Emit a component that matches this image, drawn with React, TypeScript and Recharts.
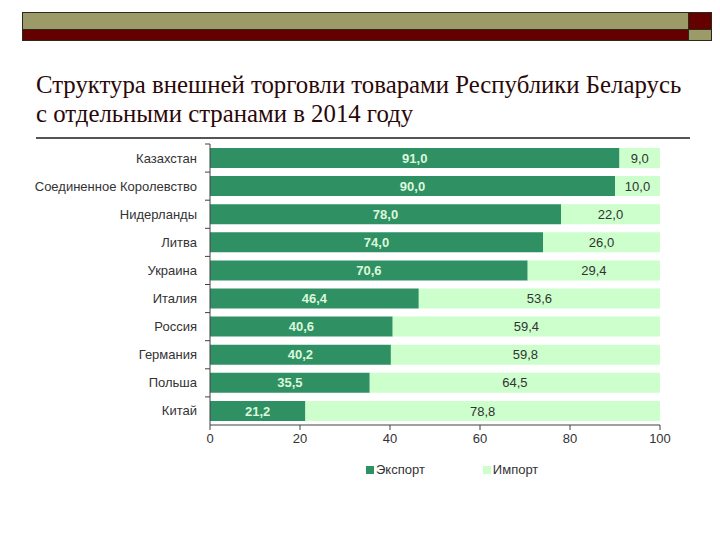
import { Bar, BarChart, LabelList, Legend, XAxis, YAxis } from 'recharts';

const countries = [
  'Казахстан',
  'Соединенное Королевство',
  'Нидерланды',
  'Литва',
  'Украина',
  'Италия',
  'Россия',
  'Германия',
  'Польша',
  'Китай',
];
const exportShare = [91.0, 90.0, 78.0, 74.0, 70.6, 46.4, 40.6, 40.2, 35.5, 21.2];
const importShare = [9.0, 10.0, 22.0, 26.0, 29.4, 53.6, 59.4, 59.8, 64.5, 78.8];
const xTicks = [0, 20, 40, 60, 80, 100];

const rows = countries.map((name, i) => ({
  name,
  exp: exportShare[i],
  imp: importShare[i],
}));

const EXPORT_COLOR = '#2f9063';
const IMPORT_COLOR = '#ccffcc';
const AXIS_COLOR = '#404040';
const chartFont = '"Liberation Sans", Arial, sans-serif';

const fmt = (v: any) => Number(v).toFixed(1).replace('.', ',');

function CountryTick(props: any) {
  const { x, y, payload } = props;
  const half = payload && payload.offset ? payload.offset : 14;
  return (
    <g>
      <line x1={x + 8} x2={x + 13} y1={y - half} y2={y - half} stroke={AXIS_COLOR} strokeWidth={1} />
      <text x={x} y={y} dy={4.5} textAnchor="end" fill="#333" fontSize={13} fontFamily={chartFont}>
        {payload.value}
      </text>
    </g>
  );
}

function LegendContent() {
  const items = [
    { label: 'Экспорт', color: EXPORT_COLOR },
    { label: 'Импорт', color: IMPORT_COLOR },
  ];
  return (
    <div style={{ display: 'flex', gap: 58, fontFamily: chartFont, fontSize: 13, color: '#333' }}>
      {items.map((it) => (
        <div key={it.label} style={{ display: 'flex', alignItems: 'center' }}>
          <span style={{ width: 8, height: 8, background: it.color, marginRight: 2, display: 'inline-block' }} />
          {it.label}
        </div>
      ))}
    </div>
  );
}

export default function App() {
  return (
    <div style={{ position: 'absolute', left: 0, top: 0, width: 720, height: 540, background: '#fff', overflow: 'hidden' }}>
      <div style={{ position: 'absolute', left: 22, top: 12, width: 665, height: 16, background: '#9c9a68', border: '1px solid #2a2a1a' }} />
      <div style={{ position: 'absolute', left: 22, top: 29, width: 665, height: 10, background: '#650000', border: '1px solid #2a2a1a' }} />
      <div style={{ position: 'absolute', left: 688, top: 12, width: 22, height: 16, background: '#650000', border: '1px solid #2a2a1a' }} />
      <div style={{ position: 'absolute', left: 688, top: 29, width: 22, height: 10, background: '#9c9a68', border: '1px solid #2a2a1a' }} />
      <div
        style={{
          position: 'absolute',
          left: 36,
          top: 70,
          fontFamily: '"Liberation Serif", "Times New Roman", serif',
          fontSize: 24.8,
          lineHeight: '29px',
          color: '#2a0808',
          whiteSpace: 'nowrap',
        }}
      >
        Структура внешней торговли товарами Республики Беларусь
        <br />
        с отдельными странами в 2014 году
      </div>
      <div style={{ position: 'absolute', left: 36, top: 137, width: 654, height: 2, background: '#555' }} />
      <div style={{ position: 'absolute', left: 0, top: 0 }}>
        <BarChart
          width={720}
          height={540}
          data={rows}
          layout="vertical"
          margin={{ top: 144, right: 60, left: 0, bottom: 85 }}
          barSize={20}
        >
          <XAxis
            type="number"
            domain={[0, 100]}
            ticks={xTicks}
            height={30}
            stroke={AXIS_COLOR}
            tickSize={5}
            tick={{ fill: '#333', fontSize: 13, fontFamily: chartFont }}
            tickMargin={4}
          />
          <YAxis
            type="category"
            dataKey="name"
            width={210}
            stroke={AXIS_COLOR}
            tickLine={false}
            tickSize={5}
            tickMargin={8}
            interval={0}
            tick={<CountryTick />}
          />
          <Legend
            layout="horizontal"
            verticalAlign="middle"
            align="center"
            wrapperStyle={{ top: 462, left: 366, width: 'auto' }}
            content={<LegendContent />}
          />
          <Bar dataKey="exp" name="Экспорт" stackId="a" fill={EXPORT_COLOR} isAnimationActive={false}>
            <LabelList
              dataKey="exp"
              position="center"
              formatter={fmt}
              fill="#dcf7dc"
              fontSize={13}
              fontWeight="bold"
              fontFamily={chartFont}
            />
          </Bar>
          <Bar dataKey="imp" name="Импорт" stackId="a" fill={IMPORT_COLOR} isAnimationActive={false}>
            <LabelList
              dataKey="imp"
              position="center"
              formatter={fmt}
              fill="#333"
              fontSize={13}
              fontFamily={chartFont}
            />
          </Bar>
        </BarChart>
      </div>
    </div>
  );
}
